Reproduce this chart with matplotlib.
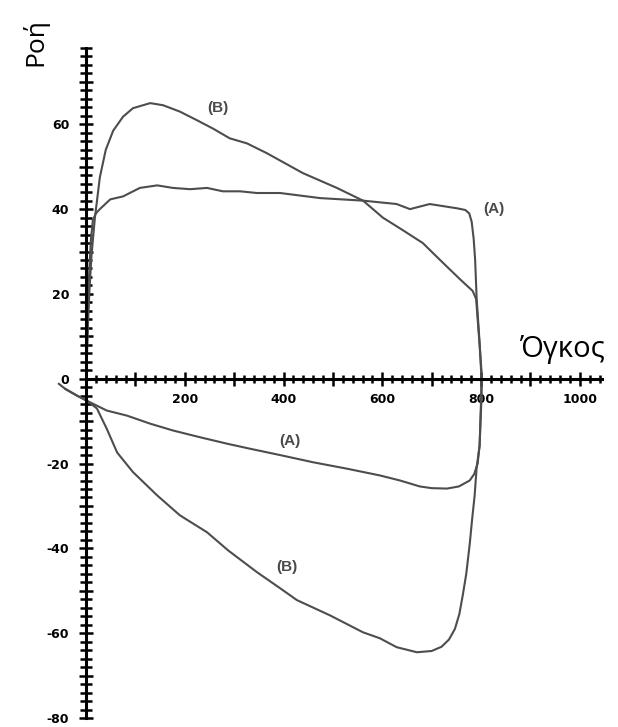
import numpy as np
import matplotlib.pyplot as plt
from matplotlib.ticker import MultipleLocator, FuncFormatter

plt.rcParams['axes.unicode_minus'] = False

# Loop A: expiration (upper) then inspiration (lower)
ax_A = [0, 3, 6, 10, 14, 20, 28, 49, 75, 109, 144, 176, 211, 245, 277, 312, 346, 393,
        474, 561, 629, 656, 696, 751, 768, 776, 781, 785, 788, 791, 797, 801, 801, 797, 793,
        786, 777, 755, 731, 700, 676, 636, 595, 528, 460, 393, 332, 285, 231, 176, 130, 83, 42, 2,
        -18, -42, -55]
ay_A = [0, 12, 24, 33, 37.5, 39, 40, 42.3, 43, 45, 45.6, 45, 44.7, 45, 44.2, 44.2, 43.8, 43.8,
        42.6, 42, 41.2, 40, 41.2, 40.2, 39.8, 39, 37, 33, 28, 19, 8.5, 1.4, -4, -15.8, -20,
        -22.5, -24, -25.4, -25.9, -25.8, -25.4, -24, -22.8, -21.2, -19.7, -18, -16.5, -15.3, -13.8, -12.2, -10.6, -8.7, -7.5, -5.2,
        -4, -2.4, -1.2]

# Loop B
bx_B = [0, 2, 4, 7, 11, 18, 28, 40, 55, 75, 95, 130, 156, 190, 224, 257, 291, 326, 366,
        439, 508, 561, 601, 642, 682, 717, 757, 783, 790, 797, 801, 800, 797, 791,
        787, 782, 777, 770, 763, 756, 747, 735, 720, 700, 670, 629, 595, 561, 494, 427, 393,
        346, 288, 245, 190, 144, 95, 63, 42, 22, 2, -18, -42]
by_B = [0, 6, 13, 21, 29, 38, 47.5, 54, 58.5, 61.8, 63.8, 65, 64.5, 63, 61, 59, 56.7, 55.5, 53.2,
        48.5, 45, 42, 38, 35, 32, 28, 23.5, 20.7, 18.8, 8, 0, -5, -15.8, -21,
        -27.5, -33, -39, -46, -51, -55.5, -59, -61.5, -63.2, -64.2, -64.5, -63.3, -61.2, -59.8, -55.8, -52.2, -49.4,
        -45.6, -40.5, -36.2, -32.2, -27.5, -22, -17.4, -11.8, -7, -5.2, -4, -2.4]

labels = ['(B)', '(A)', '(A)', '(B)']
label_x = [267, 825, 413, 407]
label_y = [63.8, 40, -14.6, -44.5]

fig = plt.figure(figsize=(6.18, 7.27), dpi=100)
ax = fig.add_axes([0.1392, 0.0124, 0.835, 0.9216])

line_col = '#4d4d4d'
ax.plot(ax_A, ay_A, color=line_col, lw=1.5, clip_on=False)
ax.plot(bx_B, by_B, color=line_col, lw=1.5, clip_on=False)

for t, x, y in zip(labels, label_x, label_y):
    ax.text(x, y, t, fontsize=11, color='#4a4a4a', ha='center', va='center',
            fontweight='bold', family='Liberation Sans')

ax.set_xlim(0, 1045)
ax.set_ylim(-80, 78)

for s in ['top', 'right']:
    ax.spines[s].set_visible(False)
ax.spines['left'].set_position(('data', 0))
ax.spines['bottom'].set_position(('data', 0))
ax.spines['left'].set_linewidth(2.2)
ax.spines['bottom'].set_linewidth(2.2)

ax.xaxis.set_major_locator(MultipleLocator(100))
ax.xaxis.set_minor_locator(MultipleLocator(20))
ax.yaxis.set_major_locator(MultipleLocator(10))
ax.yaxis.set_minor_locator(MultipleLocator(2))

ax.xaxis.set_major_formatter(FuncFormatter(
    lambda v, p: '%d' % v if (v > 0 and int(round(v)) % 200 == 0) else ''))
ax.yaxis.set_major_formatter(FuncFormatter(
    lambda v, p: '%d' % v if int(round(v)) % 20 == 0 else ''))

ax.tick_params(which='major', direction='inout', length=10, width=1.8)
ax.tick_params(which='minor', direction='inout', length=6, width=1.8)
ax.tick_params(axis='y', which='minor', length=8)
ax.tick_params(axis='x', which='major', pad=5)
ax.tick_params(axis='y', which='major', pad=7)
for lab in ax.get_xticklabels() + ax.get_yticklabels():
    lab.set_fontweight('bold')
    lab.set_fontsize(9)

fig.text(35 / 618, 1 - 42 / 727, 'Ροή', rotation=90, ha='center', va='center',
         fontsize=19, family='Open Sans')
fig.text(562 / 618, 1 - 350 / 727, 'Όγκος', ha='center', va='center',
         fontsize=21, family='Open Sans')

fig.savefig('out.png', dpi=100)
